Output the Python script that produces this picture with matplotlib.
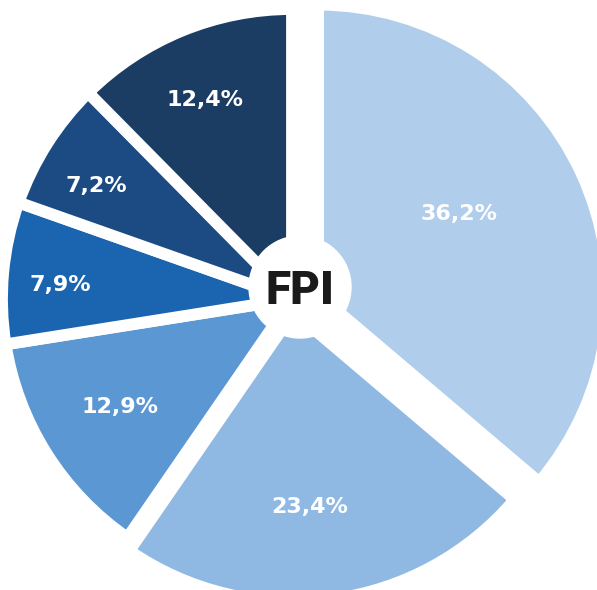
import matplotlib
matplotlib.use("Agg")
import numpy as np
import matplotlib.pyplot as plt

# slice shares, clockwise from 12 o'clock
values = [36.2, 23.4, 12.9, 7.9, 7.2, 12.4]
colors = ["#b0cdeb", "#8fb9e2", "#5b98d3", "#1a64b0", "#1b4b82", "#1b3d64"]
center_label = "FPI"

# styling: offsets of the detached slices and where the % labels sit
explode = [0, 0.045, 0, 0, 0, 0]
shift_first = (0.09, 0.015)   # first slice is pulled out sideways
label_dist = [0.56, 0.675, 0.70, 0.80, 0.78, 0.75]
label_turn = [5, -3, 0, 1.7, 2.3, 1.3]   # degrees off the mid angle

fig = plt.figure(figsize=(5.97, 5.90), dpi=100)
ax = fig.add_axes([0, 0, 1, 1])


def fmt(p):
    return f"{p:.1f}%".replace(".", ",")


wedges, texts, autotexts = ax.pie(
    values, colors=colors, explode=explode, startangle=90, counterclock=False,
    radius=1.0, autopct=fmt,
    wedgeprops=dict(edgecolor="white", linewidth=8.5),
    textprops=dict(color="white", fontsize=16, fontweight="bold"),
)
wedges[0].set_center(shift_first)

# put each label along its wedge's mid angle
for w, t, d, turn in zip(wedges, autotexts, label_dist, label_turn):
    mid = np.deg2rad((w.theta1 + w.theta2) / 2 + turn)
    c = w.center
    t.set_position((c[0] + d * np.cos(mid), c[1] + d * np.sin(mid)))

# pixel geometry of the reference -> data units (pie resets limits, so set after)
u = 290.0
cx, cy = 292, 299
ax.set_xlim(-cx / u, (597 - cx) / u)
ax.set_ylim(-(590 - cy) / u, cy / u)
ax.set_aspect("equal")
ax.axis("off")

hub = (8 / u, 12 / u)
ax.add_patch(plt.Circle(hub, 51 / u, color="white", zorder=5))
ax.text(hub[0], hub[1], center_label, ha="center", va="center_baseline",
        fontsize=33, fontweight=900, color="#1a1a1a", zorder=6,
        family=["Roboto", "DejaVu Sans"])

fig.savefig("out.png", dpi=100)
